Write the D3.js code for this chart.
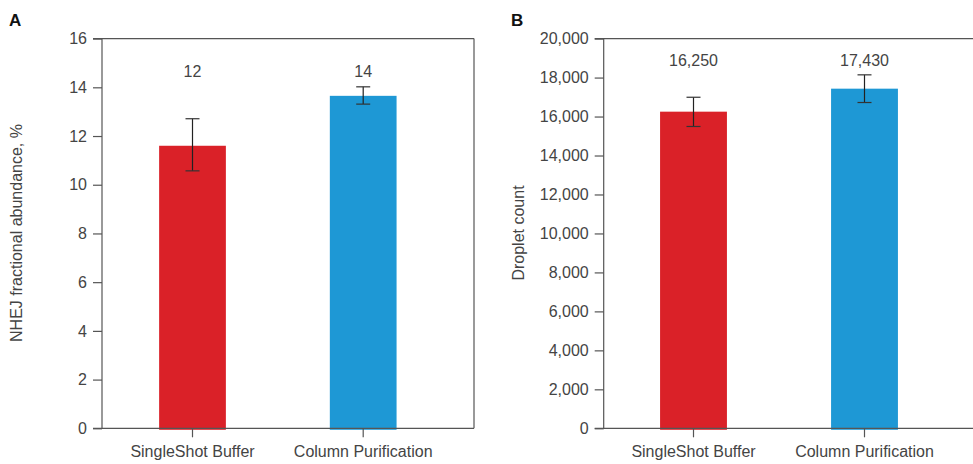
<!DOCTYPE html>
<html><head><meta charset="utf-8">
<script src="https://cdn.jsdelivr.net/npm/d3@7"></script>
<style>
body{margin:0;background:#fff;}
text{font-family:"Liberation Sans",Arial,sans-serif;fill:#444;}
</style></head>
<body><svg id="c" width="973" height="464"></svg>
<script>
const categories = ["SingleShot Buffer", "Column Purification"];
const colors = ["#da2128", "#1e98d5"];
// Panel A
const aValues = [11.6, 13.65];
const aErrLow = [10.57, 13.31];
const aErrHigh = [12.71, 14.02];
const aLabels = ["12", "14"];
const aTicks = [0, 2, 4, 6, 8, 10, 12, 14, 16];
// Panel B
const bValues = [16250, 17430];
const bErrLow = [15490, 16720];
const bErrHigh = [16990, 18140];
const bLabels = ["16,250", "17,430"];
const bTicks = [0, 2000, 4000, 6000, 8000, 10000, 12000, 14000, 16000, 18000, 20000];

const svg = d3.select("#c");
const axisColor = "#555";
const fs = 16;
const txt = "#444";

function panel(o) {
  const g = svg.append("g");
  const y = d3.scaleLinear().domain([0, o.max]).range([428.3, 38.6]);
  const x = d3.scaleBand().domain(categories)
    .range([o.c0 - (o.c1 - o.c0) / 2, o.c1 + (o.c1 - o.c0) / 2])
    .paddingInner(0.609).paddingOuter(0.3045);
  g.append("line").attr("x1", o.left - 9).attr("x2", o.right).attr("y1", y(o.max)).attr("y2", y(o.max))
    .attr("stroke", axisColor).attr("stroke-width", 1.2);
  if (o.rightBorder) g.append("line").attr("x1", o.right).attr("x2", o.right).attr("y1", y(o.max)).attr("y2", y(0))
    .attr("stroke", axisColor).attr("stroke-width", 1.2);
  g.selectAll("rect.bar").data(categories).join("rect").attr("class", "bar")
    .attr("x", d => x(d)).attr("width", x.bandwidth())
    .attr("y", (d, i) => y(o.values[i])).attr("height", (d, i) => y(0) - y(o.values[i]) + 1.5)
    .attr("fill", (d, i) => colors[i]);
  categories.forEach((c, i) => {
    const cx = x(c) + x.bandwidth() / 2;
    g.append("line").attr("x1", cx).attr("x2", cx).attr("y1", y(o.hi[i])).attr("y2", y(o.lo[i]))
      .attr("stroke", "#222").attr("stroke-width", 1.2);
    [o.hi[i], o.lo[i]].forEach(v => g.append("line").attr("x1", cx - 7).attr("x2", cx + 7)
      .attr("y1", y(v)).attr("y2", y(v)).attr("stroke", "#333").attr("stroke-width", 1.2));
    g.append("text").attr("x", cx).attr("y", o.labelY).attr("text-anchor", "middle")
      .attr("font-size", fs).text(o.labels[i]);
  });
  const ya = d3.axisLeft(y).tickValues(o.ticks).tickSize(9).tickPadding(6).tickFormat(o.fmt);
  const yg = g.append("g").attr("transform", `translate(${o.left},0)`).call(ya);
  yg.select(".domain").attr("stroke", axisColor).attr("stroke-width", 1.2).attr("d", `M0,${y(o.max)}V${y(0)}`);
  yg.selectAll(".tick line").attr("stroke", axisColor).attr("stroke-width", 1.2);
  yg.selectAll(".tick text").attr("font-size", fs).attr("fill", txt).attr("font-family", null);
  const xa = d3.axisBottom(x).tickSize(9).tickPadding(8);
  const xg = g.append("g").attr("transform", `translate(0,${y(0)})`).call(xa);
  xg.select(".domain").attr("d", `M${o.left - 9},0H${o.right}`).attr("stroke", axisColor).attr("stroke-width", 1.2);
  xg.selectAll(".tick line").attr("stroke", axisColor).attr("stroke-width", 1.2);
  xg.selectAll(".tick text").attr("font-size", fs).attr("fill", txt).attr("font-family", null);
  g.append("text").attr("transform", `translate(${o.titleX},${233}) rotate(-90)`)
    .attr("text-anchor", "middle").attr("dy", "0.35em").attr("font-size", fs).text(o.title);
  g.append("text").attr("x", o.letterX).attr("y", 26).attr("font-size", 17).attr("font-weight", "bold")
    .style("fill", "#111").text(o.letter);
}

panel({max: 16, values: aValues, lo: aErrLow, hi: aErrHigh, labels: aLabels, ticks: aTicks,
  fmt: d3.format("d"), left: 102, right: 474, rightBorder: true, c0: 192.5, c1: 363.2,
  labelY: 77, title: "NHEJ fractional abundance, %", titleX: 16, letter: "A", letterX: 9});
panel({max: 20000, values: bValues, lo: bErrLow, hi: bErrHigh, labels: bLabels, ticks: bTicks,
  fmt: d3.format(","), left: 603.7, right: 973, rightBorder: false, c0: 693.5, c1: 864.5,
  labelY: 66, title: "Droplet count", titleX: 518, letter: "B", letterX: 511});
</script></body></html>
